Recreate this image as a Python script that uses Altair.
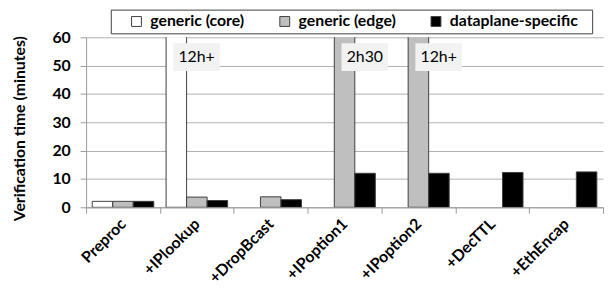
import altair as alt
import pandas as pd

categories = ["Preproc", "+IPlookup", "+DropBcast", "+IPoption1", "+IPoption2", "+DecTTL", "+EthEncap"]
series = ["generic (core)", "generic (edge)", "dataplane-specific"]
colors = ["#ffffff", "#bfbfbf", "#000000"]

# verification time in minutes (None = not shown); long runs clipped at 60
core = [2.1, 720, None, None, None, None, None]
edge = [2.1, 3.6, 3.7, 150, 720, None, None]
dataplane = [2.1, 2.4, 2.7, 12.0, 12.0, 12.3, 12.5]

ann_cats = ["+IPlookup", "+IPoption1", "+IPoption2"]
ann_series = ["generic (core)", "generic (edge)", "generic (edge)"]
ann_text = ["12h+", "2h30", "12h+"]

rows = []
for s, vals in zip(series, [core, edge, dataplane]):
    for c, v in zip(categories, vals):
        if v is not None:
            rows.append({"cat": c, "series": s, "minutes": v})
df = pd.DataFrame(rows)
ann = pd.DataFrame({"cat": ann_cats, "series": ann_series, "label": ann_text})

FONT = "Lato"

x_enc = alt.X("cat:N", sort=categories, scale=alt.Scale(domain=categories, paddingInner=0, paddingOuter=0),
              axis=alt.Axis(title=None, labelAngle=-45, labelAlign="right", labelBaseline="middle",
                            labelFont=FONT, labelFontWeight="bold", labelFontSize=16, labelColor="#000",
                            labelPadding=8, tickBand="extent", tickSize=6, tickColor="#999",
                            domainColor="#999", grid=False))
xo_enc = alt.XOffset("series:N", sort=series, scale=alt.Scale(domain=series, paddingInner=0, paddingOuter=0.3))

bars = alt.Chart(df).mark_bar(stroke="#404040", strokeWidth=1, clip=True).encode(
    x=x_enc,
    xOffset=xo_enc,
    y=alt.Y("minutes:Q", scale=alt.Scale(domain=[0, 60]),
            axis=alt.Axis(title="Verification time (minutes)", values=[0, 10, 20, 30, 40, 50, 60],
                          labelFont=FONT, labelFontWeight="bold", labelFontSize=16, labelColor="#000",
                          labelPadding=10, tickSize=6, tickColor="#999", domainColor="#999",
                          gridColor="#b0b0b0", titleFont=FONT, titleFontWeight="bold", titleFontSize=16,
                          titleColor="#000", titleX=-67, titleY=92, titleAngle=-90,
                          titleAlign="center", titleBaseline="middle")),
    fill=alt.Fill("series:N", sort=series, scale=alt.Scale(domain=series, range=colors),
                  legend=alt.Legend(title=" ", titleOrient="right", titlePadding=10,
                                    orient="none", direction="horizontal", legendX=25, legendY=-28,
                                    symbolType="square", symbolSize=100, symbolStrokeColor="#404040",
                                    symbolStrokeWidth=1, labelFont=FONT, labelFontWeight="bold",
                                    labelFontSize=16, labelColor="#000", labelOffset=6, columnPadding=18,
                                    strokeColor="#404040", fillColor="#ffffff", padding=4,
                                    symbolOffset=14)),
)

boxes = alt.Chart(ann).mark_point(
    shape="M-0.11,-0.5H1.57V0.5H-0.11Z", size=3136, filled=True, fill="#f2f2f2", opacity=1, strokeWidth=0
).encode(
    x=alt.X("cat:N", sort=categories, scale=alt.Scale(domain=categories)),
    xOffset=alt.XOffset("series:N", sort=series, scale=alt.Scale(domain=series)),
    y=alt.value(20),
)

texts = alt.Chart(ann).mark_text(font=FONT, fontSize=16, color="#000", dx=20.5, align="center",
                                 baseline="middle").encode(
    x=alt.X("cat:N", sort=categories, scale=alt.Scale(domain=categories)),
    xOffset=alt.XOffset("series:N", sort=series, scale=alt.Scale(domain=series)),
    y=alt.value(20),
    text="label:N",
)

chart = alt.layer(bars, boxes, texts).properties(
    width=523, height=172,
    autosize=alt.AutoSizeParams(type="none"),
    padding={"left": 79, "top": 28, "right": 2, "bottom": 80},
).configure_view(stroke=None).configure_axis(gridWidth=1)

chart.save("out.html", embed_options={"renderer": "svg", "actions": False})
